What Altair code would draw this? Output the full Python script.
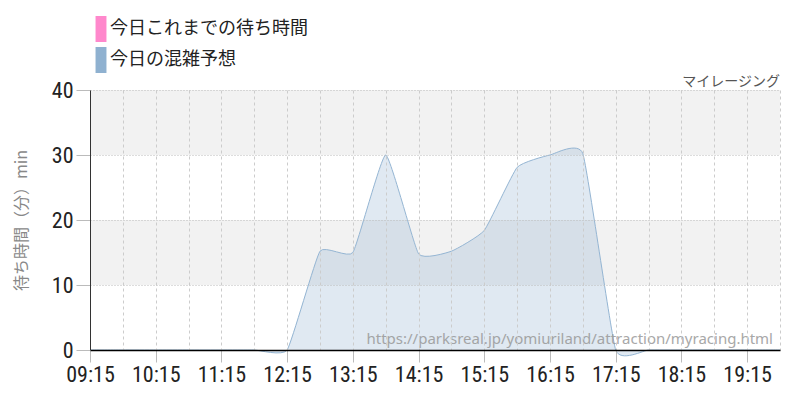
import altair as alt
import pandas as pd

# ---- data ----
times = ["09:15", "09:45", "10:15", "10:45", "11:15", "11:45", "12:15", "12:45",
         "13:15", "13:45", "14:15", "14:45", "15:15", "15:45", "16:15", "16:45",
         "17:15", "17:45", "18:15", "18:45", "19:15", "19:45"]
waits = [0, 0, 0, 0, 0, 0, 0, 15.2,
         15.0, 30.0, 14.8, 15.2, 18.4, 28.1, 30.0, 30.2,
         0, 0, 0, 0, 0, 0]
hour_labels = ["09:15", "10:15", "11:15", "12:15", "13:15", "14:15",
               "15:15", "16:15", "17:15", "18:15", "19:15"]
y_ticks = [0, 10, 20, 30, 40]
band_lo = [10, 30]
band_hi = [20, 40]
series_names = ["今日これまでの待ち時間", "今日の混雑予想"]
series_colors = ["#ff88cc", "#8fb1d0"]
watermark = "https://parksreal.jp/yomiuriland/attraction/myracing.html"
brand = "マイレージング"
y_title = "待ち時間（分）min"

COND = "Roboto Condensed, Arial Narrow, Liberation Sans Narrow, DejaVu Sans Condensed, Roboto"
CJK = "Noto Sans CJK JP"


def dt(s):
    h, m = map(int, s.split(":"))
    return alt.DateTime(year=2024, month=1, date=1, hours=h, minutes=m)


df = pd.DataFrame({
    "time": ["2024-01-01T" + t + ":00" for t in times],
    "wait": waits,
    "series": series_names[1],
})
bands_df = pd.DataFrame({"lo": band_lo, "hi": band_hi})
wm_df = pd.DataFrame({"t": [watermark]})
brand_df = pd.DataFrame({"t": [brand]})

xscale = alt.Scale(domain=[dt(times[0]), dt(times[-1])], nice=False)
yscale = alt.Scale(domain=[0, 40], nice=False)

yaxis = alt.Axis(values=y_ticks, grid=True, gridColor="#bbbbbb", gridDash=[1, 2],
                 tickColor="#bbbbbb", tickSize=14, labelFont=COND, labelFontSize=22,
                 labelColor="#222222", labelPadding=3, domainColor="#333333",
                 title=y_title, titleFont=CJK, titleFontSize=16, titleColor="#888888",
                 titleFontWeight="normal", titlePadding=22, zindex=1, orient="left")

label_axis = alt.Axis(values=[dt(h) for h in hour_labels], format="%H:%M", grid=False,
                      tickColor="#bbbbbb", tickSize=12, labelFont=COND, labelFontSize=22,
                      labelColor="#222222", labelPadding=2, labelFlush=False,
                      labelOverlap=False, domainColor="#000000", domainWidth=1.6,
                      title=None, orient="bottom", zindex=1)

grid_axis = alt.Axis(values=[dt(t) for t in times], grid=True, gridColor="#cccccc",
                     gridDash=[3, 3], labels=False, ticks=False, domain=False,
                     title=None, orient="bottom", zindex=1)

legend = alt.Legend(orient="none", legendX=2, legendY=-70, title=None, direction="vertical",
                    symbolType="M-0.84,-2H0.84V2H-0.84Z", symbolSize=169, symbolOpacity=1,
                    symbolStrokeWidth=0, labelFont=CJK, labelFontSize=18,
                    labelColor="#222222", labelOffset=0, rowPadding=5, padding=0,
                    labelLimit=400)

bands = alt.Chart(bands_df).mark_rect(color="#f2f2f2").encode(
    y=alt.Y("lo:Q", scale=yscale, axis=yaxis),
    y2="hi:Q",
)

area = alt.Chart(df).mark_area(interpolate="cardinal", tension=0.6, fillOpacity=0.28).encode(
    x=alt.X("time:T", scale=xscale, axis=label_axis),
    y=alt.Y("wait:Q", scale=yscale, axis=yaxis),
    color=alt.Color("series:N", scale=alt.Scale(domain=series_names, range=series_colors),
                    legend=legend),
)

line = alt.Chart(df).mark_line(interpolate="cardinal", tension=0.6, color="#94b5d3",
                               strokeWidth=1).encode(
    x=alt.X("time:T", scale=xscale, axis=grid_axis),
    y=alt.Y("wait:Q", scale=yscale, axis=yaxis),
)

wm = alt.Chart(wm_df).mark_text(align="right", baseline="alphabetic", font="Noto Sans",
                                fontSize=15, color="#999999", opacity=0.85).encode(
    x=alt.value(683), y=alt.value(254), text="t:N"
)

brand_txt = alt.Chart(brand_df).mark_text(align="right", baseline="alphabetic", font=CJK,
                                          fontSize=14, color="#555555").encode(
    x=alt.value(690), y=alt.value(-4), text="t:N"
)

chart = alt.layer(bands, area, line, wm, brand_txt).resolve_axis(x="independent").properties(
    width=690, height=260,
    autosize=alt.AutoSizeParams(type="none"),
    padding={"left": 82, "top": 82, "right": 12, "bottom": 42},
).configure_view(stroke=None)

chart.save("out.html", embed_options={"renderer": "svg", "actions": False})
